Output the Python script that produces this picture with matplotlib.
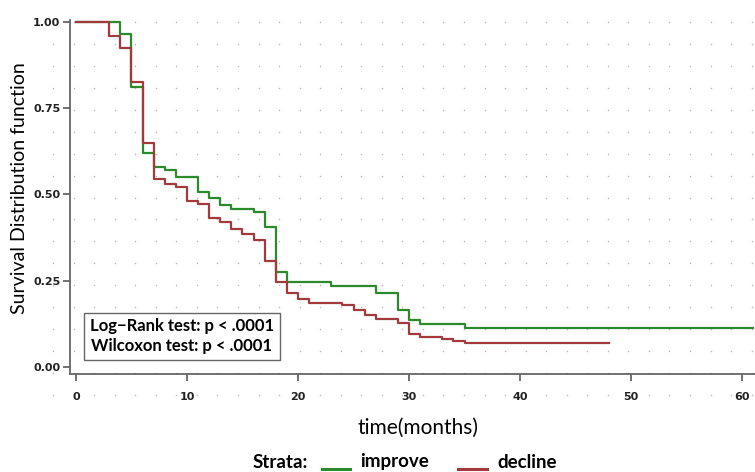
import numpy as np
import matplotlib
matplotlib.use("Agg")
from matplotlib import pyplot as plt
from matplotlib.lines import Line2D

# Kaplan-Meier step values
improve_t = [0, 4, 5, 6, 7, 8, 9, 11, 12, 13, 14, 16, 17, 18, 19, 23, 27, 29, 30, 31, 35, 61]
improve_s = [1.0, 0.966, 0.813, 0.620, 0.580, 0.570, 0.551, 0.507, 0.489, 0.470, 0.457,
             0.448, 0.406, 0.275, 0.246, 0.236, 0.215, 0.164, 0.135, 0.124, 0.113, 0.113]

decline_t = [0, 3, 4, 5, 6, 7, 8, 9, 10, 11, 12, 13, 14, 15, 16, 17, 18, 19, 20, 21,
             24, 25, 26, 27, 29, 30, 31, 33, 34, 35, 48]
decline_s = [1.0, 0.960, 0.926, 0.825, 0.648, 0.546, 0.531, 0.522, 0.481, 0.472, 0.433,
             0.419, 0.400, 0.385, 0.368, 0.308, 0.246, 0.214, 0.198, 0.185, 0.179, 0.164,
             0.150, 0.140, 0.128, 0.097, 0.087, 0.081, 0.076, 0.070, 0.070]

x_ticks = [0, 10, 20, 30, 40, 50, 60]
y_ticks = [0.0, 0.25, 0.5, 0.75, 1.0]
y_ticklabels = ["0.00", "0.25", "0.50", "0.75", "1.00"]

GREEN = "#2b8a2b"
RED = "#a3383d"
W, H = 755, 472

fig = plt.figure(figsize=(W / 100, H / 100), dpi=100)

# background dotted pattern (covers plot and label area like the original)
bg = fig.add_axes([0, 0, 1, 1], zorder=0)
bg.set_xlim(0, W)
bg.set_ylim(H, 0)
bg.axis("off")
gx, gy = np.meshgrid(np.arange(53, 756, 20.55), np.linspace(22, 395, 18))
bg.scatter(gx.ravel(), gy.ravel(), s=1.2, color="#b8b8b8", linewidths=0)

ax = fig.add_axes([70 / W, 1 - 374 / H, 1 - 70 / W, (374 - 20) / H], zorder=1)
ax.patch.set_alpha(0)
ax.step(improve_t, improve_s, where="post", color=GREEN, lw=1.6)
ax.step(decline_t, decline_s, where="post", color=RED, lw=1.6)

ax.set_xlim(-0.54, 61.17)
ax.set_ylim(-0.0203, 1.0058)
for s in ["top", "right"]:
    ax.spines[s].set_visible(False)
for s in ["left", "bottom"]:
    ax.spines[s].set_color("#666666")
    ax.spines[s].set_linewidth(1.3)

tick_font = dict(family=["DejaVu Sans"], weight="bold", size=8)
ax.set_xticks(x_ticks)
ax.set_xticklabels([str(v) for v in x_ticks], **tick_font)
ax.set_yticks(y_ticks)
ax.set_yticklabels(y_ticklabels, **tick_font)
ax.tick_params(axis="both", length=5, width=1.3, color="#666666", labelcolor="#222222")
ax.tick_params(axis="x", pad=8)
ax.tick_params(axis="y", pad=2)

fig.text(20 / W, 1 - 188 / H, "Survival Distribution function", rotation=90,
         ha="center", va="center", family=["Lato", "DejaVu Sans"], size=14)
fig.text(418 / W, 1 - 428 / H, "time(months)", ha="center", va="center",
         family=["Lato", "DejaVu Sans"], size=15)

ax.text(0.163, 0.107, "Log\u2212Rank test: p < .0001\nWilcoxon test: p < .0001",
        transform=ax.transAxes, ha="center", va="center", fontsize=12,
        family=["Lato", "DejaVu Sans"], weight="bold", linespacing=1.25,
        bbox=dict(boxstyle="square,pad=0.35", facecolor="white", edgecolor="#666666", lw=1))

# legend row at the bottom
leg_y = 1 - 462 / H
leg_font = dict(family=["Lato", "DejaVu Sans"], weight="bold", size=13.5, va="center")
fig.text(253 / W, leg_y, "Strata:", ha="left", **leg_font)
fig.add_artist(Line2D([322 / W, 350 / W], [leg_y - 0.014, leg_y - 0.014], color=GREEN, lw=2.2))
fig.text(360 / W, leg_y, "improve", ha="left", **leg_font)
fig.add_artist(Line2D([458 / W, 487 / W], [leg_y - 0.014, leg_y - 0.014], color=RED, lw=2.2))
fig.text(497 / W, leg_y, "decline", ha="left", **leg_font)

fig.savefig("out.png", dpi=100, facecolor="white")
